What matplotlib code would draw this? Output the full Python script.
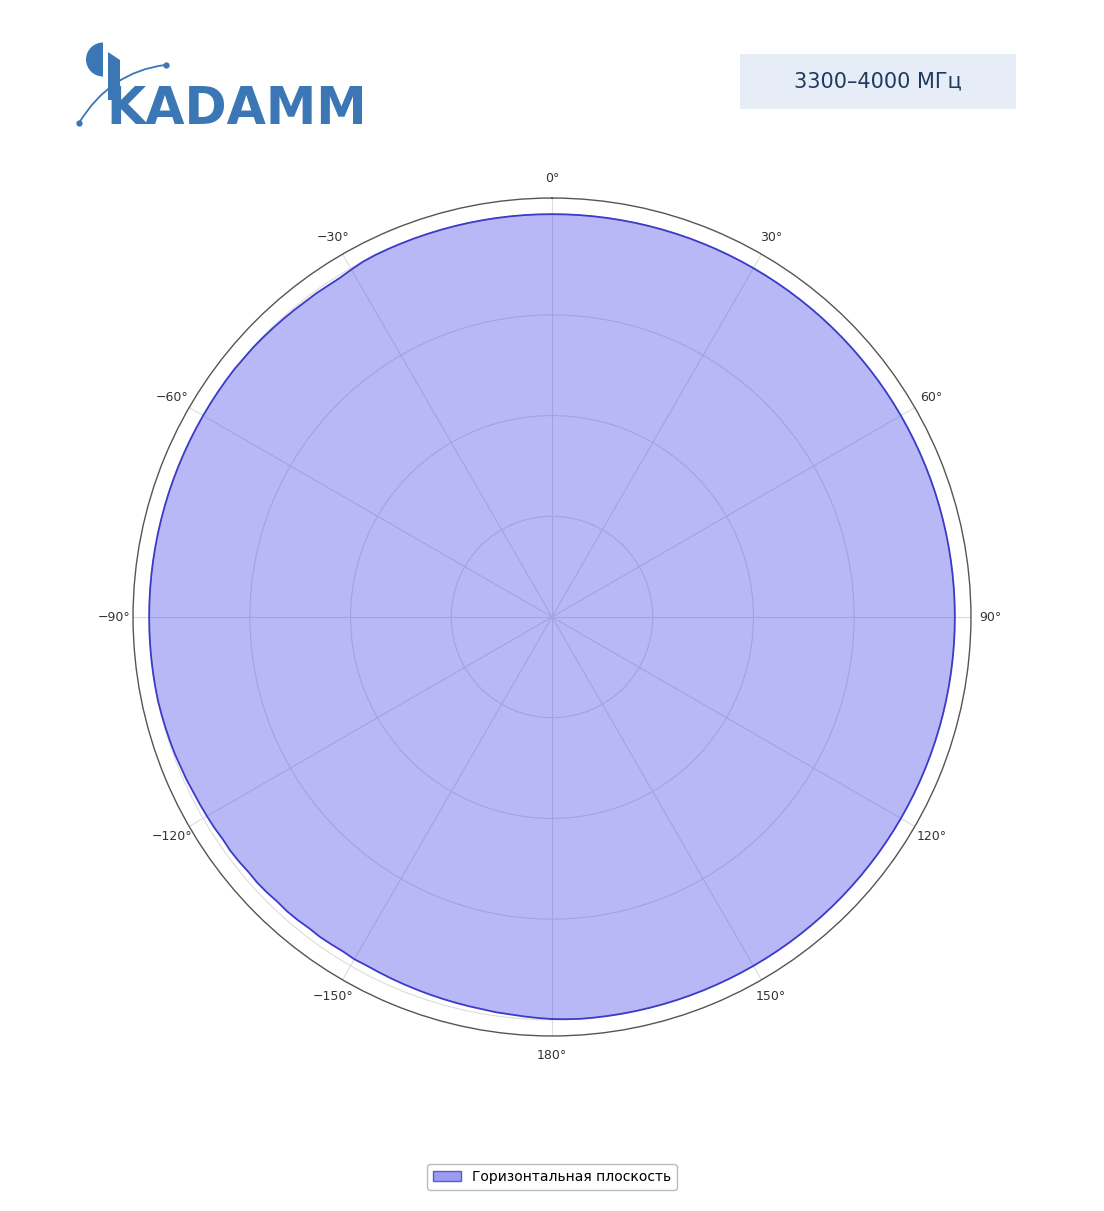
import numpy as np
import matplotlib
matplotlib.use("Agg")
import matplotlib.pyplot as plt
from matplotlib.patches import Polygon, Rectangle, Wedge, Patch
from matplotlib.path import Path
from matplotlib.patches import PathPatch

plt.rcParams['font.family'] = ['DejaVu Sans']

# ---- data (2 degree steps, -180 .. 180) ----
angles_deg = list(range(-180, 181, 2))
gain = [
    # -180 .. -162
    0.998, 0.996, 0.994, 0.992, 0.991, 0.989, 0.988, 0.987, 0.986, 0.985,
    # -160 .. -142
    0.984, 0.983, 0.982, 0.981, 0.980, 0.981, 0.979, 0.980, 0.981, 0.980,
    # -140 .. -122
    0.982, 0.983, 0.982, 0.984, 0.985, 0.984, 0.986, 0.987, 0.986, 0.988,
    # -120 .. -102
    0.989, 0.990, 0.991, 0.993, 0.994, 0.996, 0.997, 0.998, 0.999, 1.000,
    # -100 .. -82
    1.000, 1.000, 1.000, 1.000, 1.000, 1.000, 1.000, 1.000, 1.000, 1.000,
    # -80 .. -62
    1.000, 1.000, 1.000, 1.000, 1.000, 1.000, 1.000, 1.000, 1.000, 1.000,
    # -60 .. -42
    1.000, 1.000, 1.000, 1.000, 1.000, 0.999, 0.999, 0.998, 0.997, 0.996,
    # -40 .. -22
    0.995, 0.994, 0.994, 0.993, 0.993, 0.996, 0.999, 1.000, 1.000, 1.000,
    # -20 .. -2
    1.000, 1.000, 1.000, 1.000, 1.000, 1.000, 1.000, 1.000, 1.000, 1.000,
    # 0 .. 18
    1.000, 1.000, 1.000, 1.000, 1.000, 1.000, 1.000, 1.000, 1.000, 1.000,
    # 20 .. 38
    1.000, 1.000, 1.000, 1.000, 1.000, 1.000, 1.000, 1.000, 1.000, 1.000,
    # 40 .. 58
    1.000, 1.000, 1.000, 1.000, 1.000, 1.000, 1.000, 1.000, 1.000, 1.000,
    # 60 .. 78
    1.000, 1.000, 1.000, 1.000, 1.000, 1.000, 1.000, 1.000, 1.000, 1.000,
    # 80 .. 98
    1.000, 1.000, 1.000, 1.000, 1.000, 1.000, 1.000, 1.000, 1.000, 1.000,
    # 100 .. 118
    1.000, 1.000, 1.000, 1.000, 1.000, 1.000, 1.000, 1.000, 1.000, 1.000,
    # 120 .. 138
    1.000, 1.000, 1.000, 1.000, 1.000, 1.000, 1.000, 1.000, 1.000, 1.000,
    # 140 .. 158
    1.000, 1.000, 1.000, 1.000, 1.000, 1.000, 1.000, 1.000, 1.000, 1.000,
    # 160 .. 180
    1.000, 1.000, 1.000, 1.000, 1.000, 1.000, 1.000, 1.000, 1.000, 0.999, 0.998,
]
theta_ticks = [0, 30, 60, 90, 120, 150, 180, 210, 240, 270, 300, 330]
theta_labels = ["0°", "30°", "60°", "90°", "120°", "150°", "180°",
                "−150°", "−120°", "−90°", "−60°", "−30°"]
r_ticks = [0.25, 0.5, 0.75, 1.0]
series_name = "Горизонтальная плоскость"
band_label = "3300–4000 МГц"
logo_text = "KADAMM"

fig = plt.figure(figsize=(11.04, 12.11), dpi=100)

ax = fig.add_axes([0.1205, 0.1445, 0.759, 0.692], projection='polar')
ax.set_theta_zero_location('N')
ax.set_theta_direction(-1)
ax.set_thetagrids(theta_ticks, theta_labels, fontsize=9, color='#333333')
ax.set_ylim(0, 1.04)
ax.set_yticks(r_ticks)
ax.set_yticklabels([])
ax.grid(True, color='#dcdcdc', linewidth=0.8)
ax.spines['polar'].set_color('#555555')
ax.spines['polar'].set_linewidth(1.0)
ax.tick_params(axis='x', pad=7, length=0)
ax.set_axisbelow(True)

th = np.deg2rad(np.array(angles_deg))
r = np.array(gain)
ax.fill(th, r, color='#4346e6', alpha=0.38, linewidth=0, zorder=2)
ax.plot(th, r, color='#3b3bc8', linewidth=1.3, zorder=3)

handle = Patch(facecolor='#9c9cf2', edgecolor='#5a5ad0', linewidth=1.0)
leg = fig.legend([handle], [series_name], loc='lower center',
                 bbox_to_anchor=(0.5, 0.012), fontsize=10, frameon=True,
                 fancybox=True, edgecolor='#aaaaaa')

# ---- header box ----
W, H = 1104, 1211
def fx(x): return x / W
def fy(y): return 1 - y / H

fig.patches.append(Rectangle((fx(740), fy(109)), fx(1016) - fx(740), fy(54) - fy(109),
                             transform=fig.transFigure, facecolor='#e6edf6',
                             edgecolor='none', zorder=0))
fig.text(fx(878), fy(82), band_label, ha='center', va='center', fontsize=15,
         color='#1f3a5f')

# ---- logo ----
blue = '#3b76b5'
fig.text(fx(106), fy(124), logo_text, ha='left', va='baseline', fontsize=36.5,
         fontweight='heavy', color=blue, family=['DejaVu Sans'])
# tall stem of K
fig.patches.append(Polygon([(fx(108), fy(52)), (fx(120), fy(60)), (fx(120), fy(100)),
                            (fx(108), fy(100))], closed=True,
                           transform=fig.transFigure, facecolor=blue,
                           edgecolor='none'))
# half disc and arc
lax = fig.add_axes([0, 0, 1, 1], facecolor='none')
lax.set_xlim(0, W)
lax.set_ylim(H, 0)
lax.axis('off')
lax.add_patch(Wedge((103, 59.5), 17, 90, 270, facecolor=blue, edgecolor='none'))
verts = [(79, 123), (110, 72), (165, 65)]
lax.add_patch(PathPatch(Path(verts, [Path.MOVETO, Path.CURVE3, Path.CURVE3]),
                        facecolor='none', edgecolor=blue, linewidth=1.3))
lax.plot([79, 165.5], [123, 65], 'o', color=blue, markersize=3.5)

fig.savefig('out.png', dpi=100)
